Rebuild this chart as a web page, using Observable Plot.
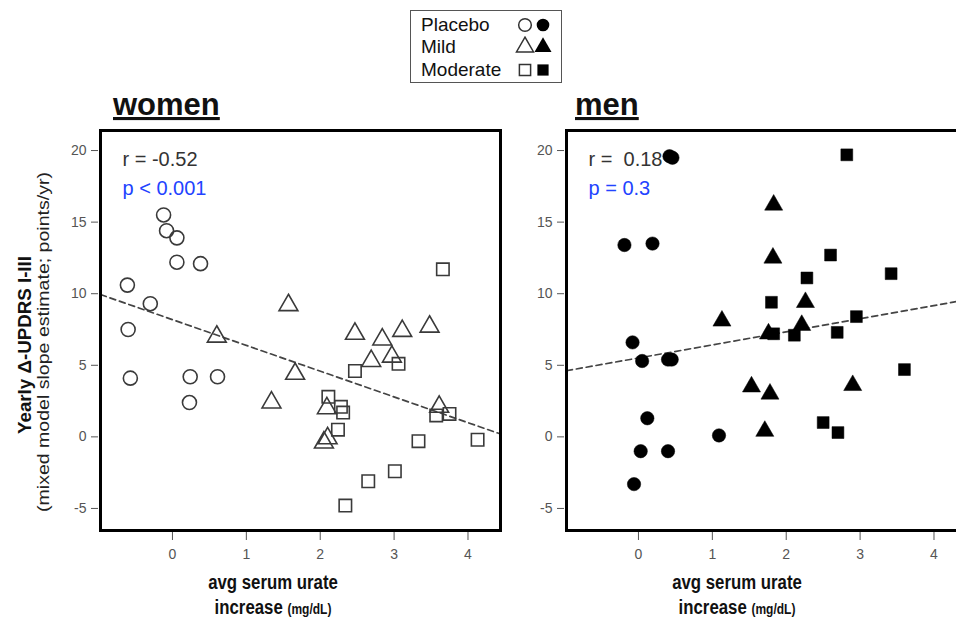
<!DOCTYPE html>
<html><head><meta charset="utf-8">
<script src="https://cdn.jsdelivr.net/npm/d3@7"></script>
<script src="https://cdn.jsdelivr.net/npm/@observablehq/plot@0.6"></script>
<style>
body{margin:0;background:#fff;font-family:"Liberation Sans",Arial,sans-serif;}
#root{position:relative;width:956px;height:624px;overflow:hidden;background:#fff;}
#root > * {position:absolute;}
.legend{left:410px;top:10px;width:150px;height:71px;border:1.5px solid #555;box-sizing:content-box;}
.legend .row{position:absolute;left:10px;font-size:19px;color:#111;line-height:19px;}
</style></head><body><div id="root"></div>
<script>
// ---- data ----
const groups = ["Placebo", "Mild", "Moderate"];
const groupSymbols = ["circle", "triangle", "square"];
const xTicks = [0, 1, 2, 3, 4];
const yTicks = [-5, 0, 5, 10, 15, 20];
const xDomain = [-0.974, 4.44];
const yDomain = [-6.54, 21.4];

const womenPlaceboX = [-0.12, -0.08, 0.06, 0.06, 0.38, -0.61, -0.30, -0.60, -0.57, 0.24, 0.61, 0.23];
const womenPlaceboY = [15.5, 14.4, 13.9, 12.2, 12.1, 10.6, 9.3, 7.5, 4.1, 4.2, 4.2, 2.4];
const womenMildX = [1.57, 0.60, 1.66, 1.34, 2.47, 2.84, 3.11, 3.48, 2.69, 2.97, 2.09, 3.61, 2.10, 2.05];
const womenMildY = [9.2, 7.0, 4.4, 2.4, 7.2, 6.8, 7.4, 7.7, 5.3, 5.6, 2.0, 2.1, -0.1, -0.4];
const womenModerateX = [3.66, 2.47, 3.06, 2.11, 2.28, 2.31, 3.57, 3.75, 2.24, 3.33, 4.13, 3.01, 2.65, 2.34];
const womenModerateY = [11.7, 4.6, 5.1, 2.8, 2.1, 1.7, 1.5, 1.6, 0.5, -0.3, -0.2, -2.4, -3.1, -4.8];

const menPlaceboX = [0.42, 0.46, -0.19, 0.19, -0.08, 0.05, 0.40, 0.45, 0.12, 1.09, 0.03, 0.40, -0.06];
const menPlaceboY = [19.6, 19.5, 13.4, 13.5, 6.6, 5.3, 5.4, 5.4, 1.3, 0.1, -1.0, -1.0, -3.3];
const menMildX = [1.13, 1.83, 1.82, 2.26, 2.21, 1.76, 1.53, 1.78, 2.90, 1.71];
const menMildY = [8.1, 16.2, 12.5, 9.4, 7.8, 7.2, 3.5, 3.0, 3.6, 0.4];
const menModerateX = [2.82, 2.60, 2.28, 3.42, 1.80, 2.95, 1.83, 2.11, 2.69, 3.60, 2.50, 2.70];
const menModerateY = [19.7, 12.7, 11.1, 11.4, 9.4, 8.4, 7.2, 7.1, 7.3, 4.7, 1.0, 0.3];

const trendX = [-0.974, 4.44];
const womenTrendY = [9.94, 0.20];
const menTrendY = [4.62, 9.57];

const womenStats = ["r = -0.52", "p < 0.001"];
const menStats = ["r =  0.18", "p = 0.3"];

// ---- build tables ----
function rows(xs, ys, group) { return xs.map((x, i) => ({x, y: ys[i], group})); }
const womenRows = [
  ...rows(womenPlaceboX, womenPlaceboY, "Placebo"),
  ...rows(womenMildX, womenMildY, "Mild"),
  ...rows(womenModerateX, womenModerateY, "Moderate")];
const menRows = [
  ...rows(menPlaceboX, menPlaceboY, "Placebo"),
  ...rows(menMildX, menMildY, "Mild"),
  ...rows(menModerateX, menModerateY, "Moderate")];

const FONT = '"Liberation Sans", Arial, sans-serif';

function panel(data, filled, trendY, stats, marginLeft) {
  const trend = trendX.map((x, i) => ({x, y: trendY[i]}));
  return Plot.plot({
    width: marginLeft + 400 + 40, height: 624,
    marginTop: 130, marginBottom: 94, marginLeft, marginRight: 40,
    x: {domain: xDomain},
    y: {domain: yDomain},
    symbol: {domain: groups, range: groupSymbols},
    style: {fontFamily: FONT, fontSize: "14px", color: "#555", background: "transparent", overflow: "visible"},
    marks: [
      Plot.axisX({ticks: xTicks, tickSize: 9, tickPadding: 9, dy: 1, tickFormat: d => String(d), label: null, stroke: "#555"}),
      Plot.axisY({ticks: yTicks, tickSize: 7, tickPadding: 5, dx: -2, tickFormat: d => String(d), label: null, stroke: "#555"}),
      Plot.line(trend, {x: "x", y: "y", stroke: "#444", strokeWidth: 1.7, strokeDasharray: "6,4"}),
      Plot.dot(data, {x: "x", y: "y", symbol: "group", r: filled ? 6.7 : 7,
        fill: filled ? "#000" : "none", stroke: filled ? "#000" : "#3a3a3a", strokeWidth: filled ? 0.5 : 1.6}),
      Plot.text([stats[0]], {text: d => d, frameAnchor: "top-left", dx: 22, dy: 29, lineAnchor: "middle", textAnchor: "start", fontSize: 20, fill: "#333"}),
      Plot.text([stats[1]], {text: d => d, frameAnchor: "top-left", dx: 22, dy: 58, lineAnchor: "middle", textAnchor: "start", fontSize: 20, fill: "#2243ff"}),
      Plot.frame({stroke: "#000", strokeWidth: 3})
    ]
  });
}

const root = document.getElementById("root");
const w = panel(womenRows, false, womenTrendY, womenStats, 100);
w.style.left = "0px"; w.style.top = "0px";
root.appendChild(w);
const m = panel(menRows, true, menTrendY, menStats, 50);
m.style.left = "516px"; m.style.top = "0px";
root.appendChild(m);

// ---- overlay titles ----
const ov = d3.create("svg").attr("width", 956).attr("height", 624)
  .style("left", "0px").style("top", "0px").style("pointer-events", "none")
  .style("font-family", FONT);
[["women", 113], ["men", 575]].forEach(([t, x]) => {
  ov.append("text").attr("x", x).attr("y", 115).attr("font-size", 31).attr("font-weight", "bold")
    .attr("fill", "#111").style("text-decoration", "underline").text(t);
});
ov.append("text").attr("transform", "translate(31,345) rotate(-90)").attr("text-anchor", "middle")
  .attr("font-size", 19).attr("font-weight", "bold").attr("fill", "#111")
  .attr("textLength", 178).attr("lengthAdjust", "spacingAndGlyphs").text("Yearly Δ-UPDRS I-III");
ov.append("text").attr("transform", "translate(49,342) rotate(-90)").attr("text-anchor", "middle")
  .attr("font-size", 16).attr("fill", "#222")
  .attr("textLength", 340).attr("lengthAdjust", "spacingAndGlyphs").text("(mixed model slope estimate; points/yr)");
[273, 737].forEach(cx => {
  ov.append("text").attr("transform", `translate(${cx},589) scale(0.8,1)`).attr("text-anchor", "middle")
    .attr("font-size", 21).attr("font-weight", "bold").attr("fill", "#111").text("avg serum urate");
  const t = ov.append("text").attr("transform", `translate(${cx},614) scale(0.8,1)`).attr("text-anchor", "middle")
    .attr("font-weight", "bold").attr("fill", "#111");
  t.append("tspan").attr("font-size", 21).text("increase ");
  t.append("tspan").attr("font-size", 15).text("(mg/dL)");
});
root.appendChild(ov.node());

// ---- legend ----
const leg = document.createElement("div");
leg.className = "legend";
const rowsY = [4, 26, 49];
groups.forEach((g, i) => {
  const r = document.createElement("div");
  r.className = "row"; r.style.top = rowsY[i] + "px"; r.textContent = g;
  leg.appendChild(r);
  const s = d3.create("svg").attr("width", 46).attr("height", 22)
    .style("position", "absolute").style("left", "102px").style("top", (rowsY[i] - 1) + "px");
  const sym = d3.symbol().type(groupSymbols[i] === "circle" ? d3.symbolCircle : groupSymbols[i] === "triangle" ? d3.symbolTriangle : d3.symbolSquare).size(Math.PI * 40);
  s.append("path").attr("d", sym()).attr("transform", "translate(12,11)").attr("fill", "none").attr("stroke", "#333").attr("stroke-width", 1.5);
  s.append("path").attr("d", sym()).attr("transform", "translate(30,11)").attr("fill", "#000");
  leg.appendChild(s.node());
});
root.appendChild(leg);
</script></body></html>
